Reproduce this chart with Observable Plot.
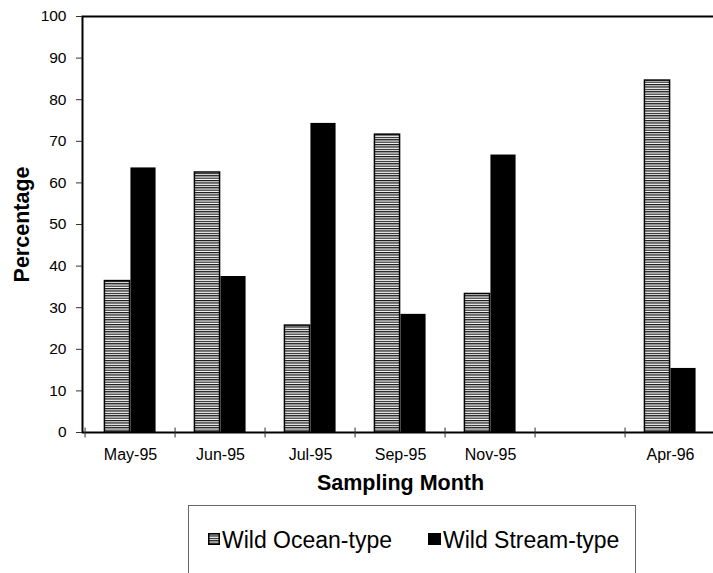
<!DOCTYPE html>
<html>
<head>
<meta charset="utf-8">
<script src="https://cdn.jsdelivr.net/npm/d3@7"></script>
<script src="https://cdn.jsdelivr.net/npm/@observablehq/plot@0.6"></script>
<style>
  html, body { margin: 0; padding: 0; background: #fff; overflow: hidden; }
  body { font-family: "Liberation Sans", Arial, sans-serif; }
  #wrap { position: relative; width: 713px; height: 573px; overflow: hidden; }
  #chart svg { overflow: hidden; font-family: "Liberation Sans", Arial, sans-serif; font-size: 15.5px; }
  #legend { position: absolute; left: 188px; top: 505px; width: 448px; height: 100px;
            border: 1px solid #666; box-sizing: border-box; }
  .sw { position: absolute; top: 25px; }
  .lab { position: absolute; top: 21px; font-size: 23px; line-height: 26px; color: #000; white-space: nowrap; }
</style>
</head>
<body>
<svg width="0" height="0" style="position:absolute">
  <defs>
    <pattern id="stripes" patternUnits="userSpaceOnUse" width="8" height="2.4">
      <rect width="8" height="2.4" fill="#ffffff"></rect>
      <rect width="8" height="1.2" fill="#111111"></rect>
    </pattern>
  </defs>
</svg>
<div id="wrap">
  <div id="chart"></div>
  <div id="legend"></div>
</div>
<script>
const months = ["May-95", "Jun-95", "Jul-95", "Sep-95", "Nov-95", "", "Apr-96"];
const seriesNames = ["Wild Ocean-type", "Wild Stream-type"];
const oceanPct = [36.4, 62.5, 25.7, 71.6, 33.3, null, 84.6];
const streamPct = [63.6, 37.5, 74.3, 28.4, 66.7, null, 15.4];
const yTicks = [0, 10, 20, 30, 40, 50, 60, 70, 80, 90, 100];

const rows = months.flatMap((m, i) => [
  {month: m, series: seriesNames[0], value: oceanPct[i]},
  {month: m, series: seriesNames[1], value: streamPct[i]}
]).filter(d => d.value != null);

const W = 713, H = 504, mL = 82, mR = -5, mT = 16, mB = 72;
const step = (W - mL - mR) / months.length;
const half = step / 2;
const barW = 26;

const tickSymbol = {
  draw(ctx) { ctx.moveTo(0, -5); ctx.lineTo(0, 5); }
};

const chart = Plot.plot({
  width: W,
  height: H,
  marginLeft: mL,
  marginRight: mR,
  marginTop: mT,
  marginBottom: mB,
  style: {fontFamily: "Liberation Sans, Arial, sans-serif", fontSize: "15.5px", color: "#000", background: "#fff"},
  x: {type: "band", domain: months, padding: 0},
  y: {domain: [0, 100]},
  marks: [
    Plot.barY(rows.filter(d => d.series === seriesNames[0]), {
      x: "month", y: "value", fill: "url(#stripes)", stroke: "#000", strokeWidth: 1.5,
      insetLeft: half - barW, insetRight: half
    }),
    Plot.barY(rows.filter(d => d.series === seriesNames[1]), {
      x: "month", y: "value", fill: "#000",
      insetLeft: half, insetRight: half - barW
    }),
    Plot.frame({stroke: "#000", strokeWidth: 2}),
    Plot.axisY({ticks: yTicks, tickSize: 6, tickPadding: 10, fontSize: 15.5, tickFormat: d => String(d), label: null, stroke: "#333"}),
    Plot.axisX({tickSize: 0, tickPadding: 16, fontSize: 16, label: null}),
    Plot.dot(months, {x: d => d, y: () => 0, dx: -half, symbol: tickSymbol, fill: "none", stroke: "#333", strokeWidth: 1}),
    Plot.text(["Sampling Month"], {text: d => d, frameAnchor: "bottom", textAnchor: "middle", dy: 57, fontSize: 21.5, fontWeight: "bold", fill: "#000"}),
    Plot.text(["Percentage"], {text: d => d, frameAnchor: "left", textAnchor: "middle", dx: -60, rotate: -90, fontSize: 21.5, fontWeight: "bold", fill: "#000"})
  ]
});
document.getElementById("chart").appendChild(chart);

// Legend
const legend = document.getElementById("legend");
const legendItems = [
  {name: seriesNames[0], sw: 19, lab: 33, swatch: '<svg width="12" height="12"><rect x="0.75" y="0.75" width="10.5" height="10.5" fill="url(#stripes)" stroke="#000" stroke-width="1.5"></rect></svg>'},
  {name: seriesNames[1], sw: 239, lab: 254, swatch: '<svg width="13" height="12"><rect width="13" height="12" fill="#000"></rect></svg>'}
];
legendItems.forEach(it => {
  const s = document.createElement("div");
  s.className = "sw";
  s.style.left = it.sw + "px";
  s.innerHTML = it.swatch;
  legend.appendChild(s);
  const t = document.createElement("div");
  t.className = "lab";
  t.style.left = it.lab + "px";
  t.textContent = it.name;
  legend.appendChild(t);
});
</script>
</body>
</html>
